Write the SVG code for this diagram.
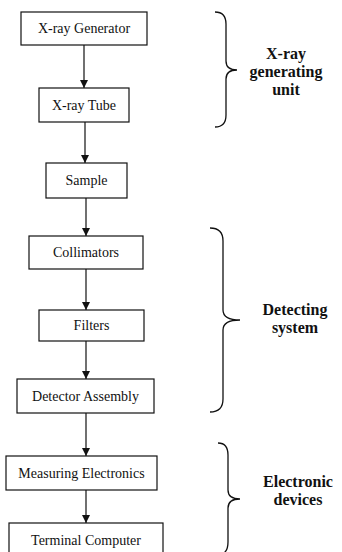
<svg xmlns="http://www.w3.org/2000/svg" width="342" height="552" viewBox="0 0 342 552">
<style>
.box{fill:#fff;stroke:#111;stroke-width:1.2}
text{font-family:'Liberation Serif','DejaVu Serif',serif;fill:#111;text-anchor:middle}
.lbl{font-size:14px}
.grp{font-size:16px;font-weight:bold}
.con{stroke:#111;stroke-width:1.2;fill:none}
.brace{stroke:#111;stroke-width:1.3;fill:none}
</style>
<defs>
<marker id="ah" viewBox="0 0 10 10" refX="10" refY="5" markerWidth="8" markerHeight="8" markerUnits="userSpaceOnUse" orient="auto">
<path d="M0,0 L10,5 L0,10 Z" fill="#111"/>
</marker>
</defs>
<rect width="342" height="552" fill="#fff"/>
<g id="connectors">
<line class="con" x1="84" y1="45" x2="84" y2="88" marker-end="url(#ah)"/>
<line class="con" x1="85" y1="122" x2="85" y2="163" marker-end="url(#ah)"/>
<line class="con" x1="86" y1="198" x2="86" y2="236" marker-end="url(#ah)"/>
<line class="con" x1="86" y1="269" x2="86" y2="310" marker-end="url(#ah)"/>
<line class="con" x1="86" y1="341" x2="86" y2="379" marker-end="url(#ah)"/>
<line class="con" x1="86" y1="413" x2="86" y2="456" marker-end="url(#ah)"/>
<line class="con" x1="86" y1="490" x2="86" y2="523" marker-end="url(#ah)"/>
</g>
<g id="n-xray-generator"><rect class="box" x="21" y="12" width="126" height="33"/><text class="lbl" x="84" y="33">X-ray Generator</text></g>
<g id="n-xray-tube"><rect class="box" x="39" y="88" width="90" height="34"/><text class="lbl" x="84" y="110">X-ray Tube</text></g>
<g id="n-sample"><rect class="box" x="46" y="163" width="81" height="35"/><text class="lbl" x="86.5" y="185">Sample</text></g>
<g id="n-collimators"><rect class="box" x="29" y="236" width="114" height="33"/><text class="lbl" x="86" y="257">Collimators</text></g>
<g id="n-filters"><rect class="box" x="39" y="310" width="105" height="31"/><text class="lbl" x="91.5" y="330">Filters</text></g>
<g id="n-detector"><rect class="box" x="17" y="379" width="137" height="34"/><text class="lbl" x="85.5" y="401">Detector Assembly</text></g>
<g id="n-measuring"><rect class="box" x="6" y="456" width="151" height="34"/><text class="lbl" x="81.5" y="478">Measuring Electronics</text></g>
<g id="n-terminal"><rect class="box" x="9" y="523" width="154" height="40"/><text class="lbl" x="86" y="545">Terminal Computer</text></g>
<g id="g-xray-unit">
<path class="brace" d="M215,12 Q226,12 226,24 L226,61 Q226,70 237,70 Q226,70 226,79 L226,115 Q226,127 215,127"/>
<text class="grp" x="286" y="59">X-ray</text>
<text class="grp" x="286" y="77">generating</text>
<text class="grp" x="286" y="95">unit</text>
</g>
<g id="g-detecting">
<path class="brace" d="M210,228 Q223,228 223,241 L223,310 Q223,320 240,320 Q223,320 223,330 L223,399 Q223,412 210,412"/>
<text class="grp" x="295" y="315">Detecting</text>
<text class="grp" x="295" y="333">system</text>
</g>
<g id="g-electronic">
<path class="brace" d="M218,443 Q228,443 228,455 L228,490 Q228,499 240,499 Q228,499 228,508 L228,542 Q228,552 222,554"/>
<text class="grp" x="298" y="487">Electronic</text>
<text class="grp" x="298" y="505">devices</text>
</g>
</svg>
